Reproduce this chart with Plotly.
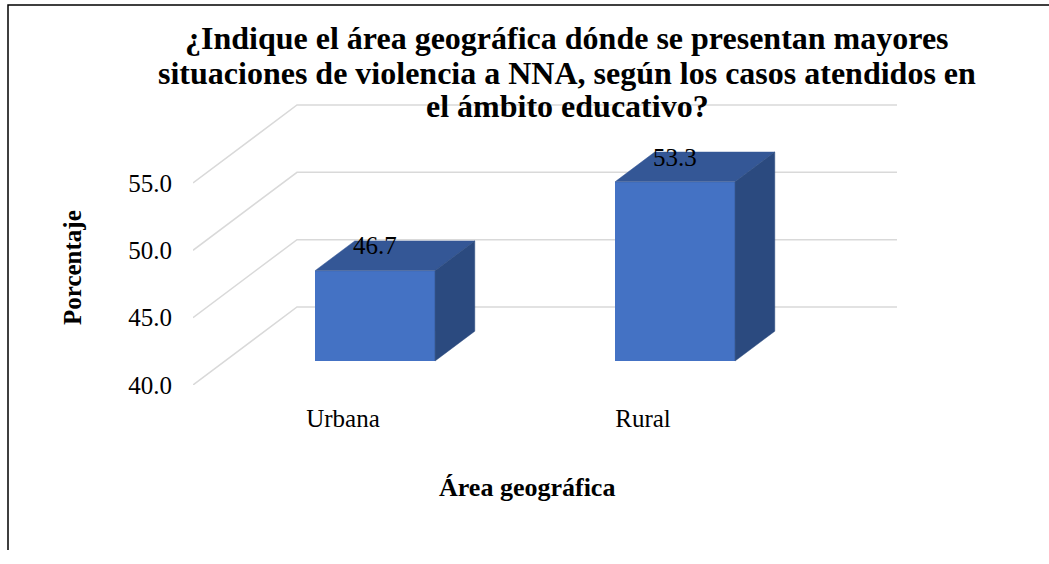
import plotly.graph_objects as go

categories = ["Urbana", "Rural"]
values = [46.7, 53.3]
y_ticks = [40, 45, 50, 55]
y_tick_labels = ["40.0", "45.0", "50.0", "55.0"]
title_lines = ["¿Indique el área geográfica dónde se presentan mayores",
               "situaciones de violencia a NNA, según los casos atendidos en",
               "el ámbito educativo?"]
x_title = "Área geográfica"
y_title = "Porcentaje"

# 3D projection styling (depth offsets per unit depth, in axis units)
DX = 0.3467
DY = 5.79
BASE = 40.0
Z_FRONT, Z_BACK = 0.308, 0.69
BAR_W = 0.4

W, H = 1049, 550  # effective drawable page size
FONT = "Liberation Serif"

def proj(x, y, z):
    return x + DX * z, y + DY * z

def fy(py):
    return 1 - py / H

fig = go.Figure()

# gridlines: side wall + back wall (drawn below the bars)
for v in y_ticks:
    pts = [proj(-0.5, v, 0), proj(-0.5, v, 1), proj(1.5, v, 1)]
    path = "M " + " L ".join(f"{p[0]},{p[1]}" for p in pts)
    fig.add_shape(type="path", xref="x", yref="y", path=path, layer="below",
                  line=dict(color="#d9d9d9", width=1.5))

xs = list(range(len(categories)))

# front faces
fx = [proj(c, BASE, Z_FRONT)[0] for c in xs]
fb = [proj(c, BASE, Z_FRONT)[1] for c in xs]
fig.add_trace(go.Bar(x=fx, y=[v - BASE for v in values], base=fb, width=BAR_W,
                     marker=dict(color="#4472C4", line=dict(width=0)), showlegend=False))

for c, v in zip(xs, values):
    l, r = c - BAR_W / 2, c + BAR_W / 2
    top = [proj(l, v, Z_FRONT), proj(r, v, Z_FRONT), proj(r, v, Z_BACK), proj(l, v, Z_BACK), proj(l, v, Z_FRONT)]
    side = [proj(r, BASE, Z_FRONT), proj(r, v, Z_FRONT), proj(r, v, Z_BACK), proj(r, BASE, Z_BACK), proj(r, BASE, Z_FRONT)]
    fig.add_trace(go.Scatter(x=[p[0] for p in top], y=[p[1] for p in top], mode="lines", fill="toself",
                             fillcolor="#345796", line=dict(color="#345796", width=0.5),
                             hoverinfo="skip", showlegend=False))
    fig.add_trace(go.Scatter(x=[p[0] for p in side], y=[p[1] for p in side], mode="lines", fill="toself",
                             fillcolor="#2B4A7F", line=dict(color="#2B4A7F", width=0.5),
                             hoverinfo="skip", showlegend=False))

# data labels
for c, v in zip(xs, values):
    lx = proj(c, v, Z_FRONT)[0]
    ly = proj(c, v, Z_BACK)[1]
    fig.add_annotation(x=lx, y=ly, text=f"{v:.1f}", showarrow=False, yshift=-5,
                       font=dict(family=FONT, size=25, color="black"))

px_left, px_right = 193, 900
px_bottom, px_top = 385, 100
x0 = -0.5
x1 = x0 + (px_right - px_left) / 300
y1 = BASE + (px_bottom - px_top) / 13.47

fig.update_layout(
    autosize=True, margin=dict(l=0, r=0, t=0, b=0),
    paper_bgcolor="white", plot_bgcolor="rgba(0,0,0,0)",
    font=dict(family=FONT, color="black"),
    xaxis=dict(domain=[px_left / W, px_right / W], range=[x0, x1], tickvals=xs, ticktext=categories,
               showgrid=False, zeroline=False, showline=False, ticks="",
               ticklabelstandoff=16, tickfont=dict(family=FONT, size=25, color="black")),
    yaxis=dict(domain=[fy(px_bottom), fy(px_top)], range=[BASE, y1], tickvals=y_ticks,
               ticktext=y_tick_labels, showgrid=False, zeroline=False, showline=False, ticks="",
               ticklabelstandoff=20, tickfont=dict(family=FONT, size=25, color="black")),
    bargap=0,
)

for line, yc in zip(title_lines, [38, 73, 106]):
    fig.add_annotation(xref="paper", yref="paper", x=567 / W, y=fy(yc), xanchor="center", yanchor="middle",
                       text=f"<b>{line}</b>", showarrow=False,
                       font=dict(family=FONT, size=32, color="black"))
fig.add_annotation(xref="paper", yref="paper", x=527 / W, y=fy(487), xanchor="center", yanchor="middle",
                   text=f"<b>{x_title}</b>", showarrow=False,
                   font=dict(family=FONT, size=26, color="black"))
fig.add_annotation(xref="paper", yref="paper", x=72 / W, y=fy(268), xanchor="center", yanchor="middle",
                   text=f"<b>{y_title}</b>", showarrow=False, textangle=-90,
                   font=dict(family=FONT, size=25, color="black"))

# chart frame
fig.add_shape(type="path", xref="paper", yref="paper",
              path=f"M {8/W} 0 L {8/W} {fy(5)} L 1 {fy(5)}",
              line=dict(color="black", width=1.5))

fig.write_html("out.html", config={"displayModeBar": False, "responsive": True},
               default_width="100vw", default_height="100vh",
               post_script="document.body.style.margin='0';document.body.style.overflow='hidden';document.documentElement.style.overflow='hidden';")
